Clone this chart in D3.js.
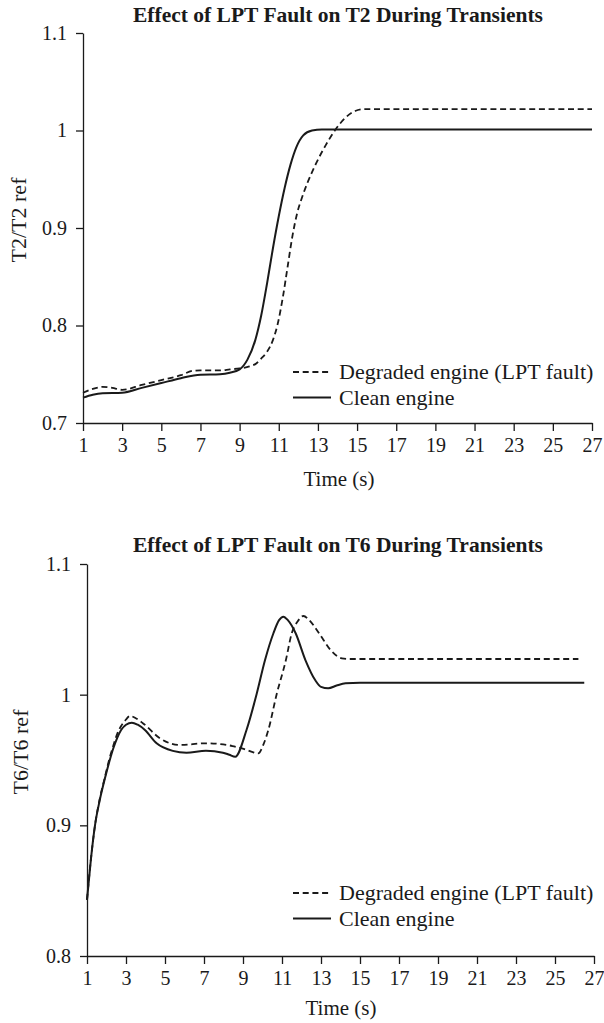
<!DOCTYPE html>
<html>
<head>
<meta charset="utf-8">
<script src="https://cdn.jsdelivr.net/npm/d3@7"></script>
<style>
  html, body { margin: 0; padding: 0; background: #fff; }
  svg { display: block; font-family: "Liberation Serif", "Times New Roman", serif; }
</style>
</head>
<body>
<svg id="chart" width="604" height="1023"></svg>
<script>
// ---- Data -------------------------------------------------------------
const timeTicks = [1, 3, 5, 7, 9, 11, 13, 15, 17, 19, 21, 23, 25, 27];
const t2Ticks = [0.7, 0.8, 0.9, 1.0, 1.1];
const t6Ticks = [0.8, 0.9, 1.0, 1.1];
const seriesNames = ["Degraded engine (LPT fault)", "Clean engine"];

// T2 / T2 ref
const t2CleanTime  = [1, 1.5, 2, 3, 4, 5, 6, 7, 8, 8.5, 9, 9.4, 9.8, 10.1, 10.4, 10.7, 11.0, 11.3, 11.6, 11.9, 12.25, 12.7, 13.2, 15, 27];
const t2CleanValue = [0.726, 0.729, 0.7305, 0.731, 0.736, 0.741, 0.746, 0.7495, 0.750, 0.7515, 0.755, 0.765, 0.785, 0.810, 0.843, 0.879, 0.912, 0.941, 0.965, 0.983, 0.995, 1.000, 1.001, 1.001, 1.001];
const t2DegradedTime  = [1, 1.5, 2, 2.5, 3, 4, 5, 6, 6.6, 7, 8, 8.5, 9, 9.5, 9.85, 10.1, 10.4, 10.7, 10.95, 11.2, 11.45, 11.7, 11.95, 12.2, 12.5, 12.9, 13.4, 13.9, 14.4, 14.9, 15.4, 27];
const t2DegradedValue = [0.731, 0.735, 0.737, 0.736, 0.734, 0.739, 0.744, 0.749, 0.7535, 0.754, 0.754, 0.755, 0.756, 0.758, 0.761, 0.766, 0.773, 0.785, 0.802, 0.828, 0.860, 0.892, 0.916, 0.932, 0.948, 0.966, 0.985, 1.001, 1.013, 1.020, 1.022, 1.022];

// T6 / T6 ref
const t6CleanTime  = [1, 1.2, 1.41, 1.65, 1.92, 2.15, 2.35, 2.55, 2.75, 3.0, 3.3, 3.6, 3.97, 4.57, 5.4, 6.1, 7.1, 7.97, 8.3, 8.6, 9.18, 9.7, 10.13, 10.56, 10.85, 11.07, 11.3, 11.7, 12.2, 12.7, 13.0, 13.37, 13.8, 14.26, 15, 26.5];
const t6CleanValue = [0.843, 0.874, 0.900, 0.919, 0.936, 0.949, 0.959, 0.967, 0.973, 0.977, 0.9786, 0.977, 0.973, 0.9628, 0.957, 0.9556, 0.957, 0.9556, 0.954, 0.9525, 0.973, 1.0005, 1.0265, 1.047, 1.057, 1.0597, 1.057, 1.047, 1.0265, 1.0112, 1.006, 1.0049, 1.007, 1.0087, 1.0092, 1.0092];
const t6DegradedTime  = [1, 1.2, 1.41, 1.65, 1.92, 2.15, 2.35, 2.55, 2.75, 3.0, 3.2, 3.5, 3.88, 4.74, 5.76, 7.1, 8.46, 9.18, 9.5, 9.78, 10.05, 10.3, 10.72, 11.2, 11.5, 11.8, 12.1, 12.4, 12.9, 13.5, 14.07, 14.5, 26.2];
const t6DegradedValue = [0.843, 0.874, 0.900, 0.920, 0.937, 0.951, 0.961, 0.970, 0.976, 0.981, 0.9837, 0.982, 0.978, 0.9666, 0.9615, 0.9628, 0.9607, 0.9577, 0.956, 0.955, 0.962, 0.973, 1.000, 1.0265, 1.047, 1.056, 1.0602, 1.057, 1.047, 1.034, 1.0278, 1.0273, 1.0273];

// ---- Drawing ----------------------------------------------------------
const svg = d3.select("#chart");
const ink = "#1a1a1a";
const serif = "Liberation Serif, Times New Roman, serif";

function zip(ts, vs) { return ts.map((t, i) => ({ t, v: vs[i] })); }

function drawPanel(cfg) {
  const g = svg.append("g");
  const x = d3.scaleLinear().domain([1, 27]).range([cfg.left, cfg.right]);
  const y = d3.scaleLinear().domain(cfg.yDomain).range([cfg.bottom, cfg.top]);

  // title
  g.append("text")
    .attr("x", cfg.titleX).attr("y", cfg.titleY)
    .attr("text-anchor", "middle")
    .attr("font-size", 21.5).attr("font-weight", "bold").attr("fill", ink)
    .text(cfg.title);

  // axes
  const xAxis = g.append("g")
    .attr("transform", `translate(0,${cfg.bottom})`)
    .call(d3.axisBottom(x).tickValues(timeTicks).tickSize(8).tickSizeOuter(0).tickPadding(7));
  const yAxis = g.append("g")
    .attr("transform", `translate(${cfg.left},0)`)
    .call(d3.axisLeft(y).tickValues(cfg.yTicks).tickSize(7).tickSizeOuter(0).tickPadding(9)
      .tickFormat(d => String(+d.toFixed(1))));
  [xAxis, yAxis].forEach(a => {
    a.select(".domain").attr("stroke", ink).attr("stroke-width", 1.3);
    a.selectAll(".tick line").attr("stroke", ink).attr("stroke-width", 1.3);
    a.selectAll(".tick text").attr("fill", ink).attr("font-size", 20)
      .attr("font-family", serif);
  });

  // axis titles
  g.append("text")
    .attr("x", cfg.xLabelX).attr("y", cfg.xLabelY)
    .attr("text-anchor", "middle").attr("font-size", 21).attr("fill", ink)
    .text("Time (s)");
  g.append("text")
    .attr("transform", `translate(${cfg.yLabelX},${cfg.yLabelY}) rotate(-90)`)
    .attr("text-anchor", "middle").attr("font-size", 22).attr("fill", ink)
    .text(cfg.yLabel);

  // curves
  const line = d3.line().x(d => x(d.t)).y(d => y(d.v)).curve(d3.curveMonotoneX);
  g.append("path")
    .datum(zip(cfg.degradedTime, cfg.degradedValue))
    .attr("fill", "none").attr("stroke", ink).attr("stroke-width", 1.8)
    .attr("stroke-dasharray", "6,3.7")
    .attr("d", line);
  g.append("path")
    .datum(zip(cfg.cleanTime, cfg.cleanValue))
    .attr("fill", "none").attr("stroke", ink).attr("stroke-width", 2)
    .attr("d", line);

  // legend
  const leg = g.append("g");
  seriesNames.forEach((name, i) => {
    const ly = cfg.legendY + i * 25.5;
    leg.append("line")
      .attr("x1", 293).attr("x2", 331).attr("y1", ly).attr("y2", ly)
      .attr("stroke", ink).attr("stroke-width", i === 0 ? 1.8 : 2)
      .attr("stroke-dasharray", i === 0 ? "6,3.7" : null);
    leg.append("text")
      .attr("x", 339).attr("y", ly + 7)
      .attr("font-size", 22).attr("fill", ink)
      .text(name);
  });
}

drawPanel({
  title: "Effect of LPT Fault on T2 During Transients",
  titleX: 338, titleY: 22,
  left: 83, right: 592, top: 33, bottom: 423,
  yDomain: [0.7, 1.1], yTicks: t2Ticks,
  yLabel: "T2/T2 ref", yLabelX: 26, yLabelY: 220,
  xLabelX: 339, xLabelY: 486,
  cleanTime: t2CleanTime, cleanValue: t2CleanValue,
  degradedTime: t2DegradedTime, degradedValue: t2DegradedValue,
  legendY: 372
});

drawPanel({
  title: "Effect of LPT Fault on T6 During Transients",
  titleX: 338, titleY: 552,
  left: 87, right: 594, top: 564, bottom: 956,
  yDomain: [0.8, 1.1], yTicks: t6Ticks,
  yLabel: "T6/T6 ref", yLabelX: 28, yLabelY: 752,
  xLabelX: 341, xLabelY: 1015,
  cleanTime: t6CleanTime, cleanValue: t6CleanValue,
  degradedTime: t6DegradedTime, degradedValue: t6DegradedValue,
  legendY: 893
});
</script>
</body>
</html>
